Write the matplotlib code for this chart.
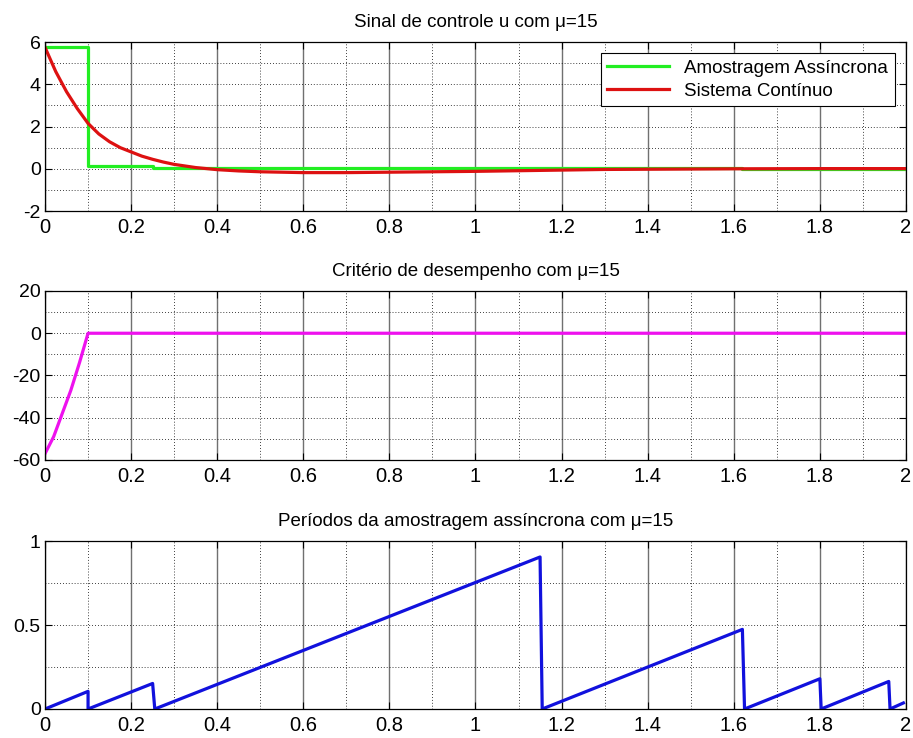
import numpy as np
import matplotlib.pyplot as plt
from matplotlib.ticker import MultipleLocator

plt.rcParams['font.family'] = ['Liberation Sans', 'DejaVu Sans']

# sinal de controle - amostragem assincrona (degraus) e sistema continuo
t_async = [0, 0.1, 0.25, 1.15, 1.62, 1.80, 1.96, 2.0]
u_async = [5.75, 0.15, 0.05, 0.02, 0.01, 0.01, 0.0, 0.0]

t_cont = [0, 0.025, 0.05, 0.075, 0.1, 0.125, 0.15, 0.175, 0.2, 0.225, 0.25, 0.275,
          0.3, 0.35, 0.4, 0.45, 0.5, 0.6, 0.7, 0.8, 0.9, 1.0, 1.1, 1.2, 1.3, 1.4,
          1.6, 1.8, 2.0]
u_cont = [5.75, 4.6, 3.65, 2.85, 2.15, 1.65, 1.28, 1.0, 0.8, 0.6, 0.45, 0.32,
          0.21, 0.06, -0.04, -0.1, -0.14, -0.18, -0.18, -0.16, -0.14, -0.12,
          -0.09, -0.06, -0.03, -0.02, 0.0, 0.01, 0.01]

# criterio de desempenho
t_crit = [0, 0.02, 0.04, 0.06, 0.08, 0.1, 2.0]
crit = [-57, -49, -38, -27, -14, 0, 0]

# periodos da amostragem
t_per = [0, 0.1, 0.1, 0.25, 0.255, 1.15, 1.155, 1.62, 1.625, 1.80, 1.803, 1.96, 1.963, 1.994]
per = [0, 0.105, 0, 0.152, 0, 0.905, 0, 0.474, 0, 0.18, 0, 0.164, 0, 0.036]

fig = plt.figure(figsize=(9.13, 7.38), dpi=100)
ax1 = fig.add_axes([0.0493, 0.714, 0.943, 0.229])
ax2 = fig.add_axes([0.0493, 0.3767, 0.943, 0.229])
ax3 = fig.add_axes([0.0493, 0.0393, 0.943, 0.2276])


def estilo(ax, ylim, ymaj, ymin, titulo):
    ax.set_xlim(0, 2)
    ax.set_ylim(*ylim)
    ax.xaxis.set_major_locator(MultipleLocator(0.2))
    ax.xaxis.set_minor_locator(MultipleLocator(0.1))
    ax.yaxis.set_major_locator(MultipleLocator(ymaj))
    ax.yaxis.set_minor_locator(MultipleLocator(ymin))
    ax.grid(True, which='major', axis='x', color='#707070', linestyle='-', linewidth=1)
    ax.grid(True, which='minor', axis='x', color='black', linestyle=(0, (1, 2.5)), linewidth=0.6)
    ax.grid(True, which='both', axis='y', color='black', linestyle=(0, (1, 2.5)), linewidth=0.6)
    ax.tick_params(which='major', direction='in', top=True, right=True, length=5)
    ax.tick_params(which='minor', length=0)
    ax.tick_params(axis='x', labelsize=14.5, pad=5)
    ax.tick_params(axis='y', labelsize=14, pad=3)
    ax.xaxis.set_major_formatter(plt.FuncFormatter(lambda v, p: ('%g' % round(v, 2))))
    ax.yaxis.set_major_formatter(plt.FuncFormatter(lambda v, p: ('%g' % round(v, 2))))
    for s in ax.spines.values():
        s.set_linewidth(0.9)
    ax.set_title(titulo, fontsize=13.5, pad=11)


ax1.plot(t_async, u_async, color='#22ee22', linewidth=2.3, drawstyle='steps-post',
         label='Amostragem Assíncrona')
ax1.plot(t_cont, u_cont, color='#dd1111', linewidth=2.3, label='Sistema Contínuo')
estilo(ax1, (-2, 6), 2, 1, 'Sinal de controle u com μ=15')
leg = ax1.legend(loc='upper right', fontsize=13.5, fancybox=False, framealpha=1,
                 edgecolor='black', borderaxespad=0.6, handlelength=3.3,
                 borderpad=0.35, labelspacing=0.3)
leg.get_frame().set_linewidth(0.8)

ax2.plot(t_crit, crit, color='#ee11ee', linewidth=2.3)
estilo(ax2, (-60, 20), 20, 10, 'Critério de desempenho com μ=15')

ax3.plot(t_per, per, color='#1111dd', linewidth=2.3)
estilo(ax3, (0, 1), 0.5, 0.25, 'Períodos da amostragem assíncrona com μ=15')

fig.savefig('out.png', dpi=100)
